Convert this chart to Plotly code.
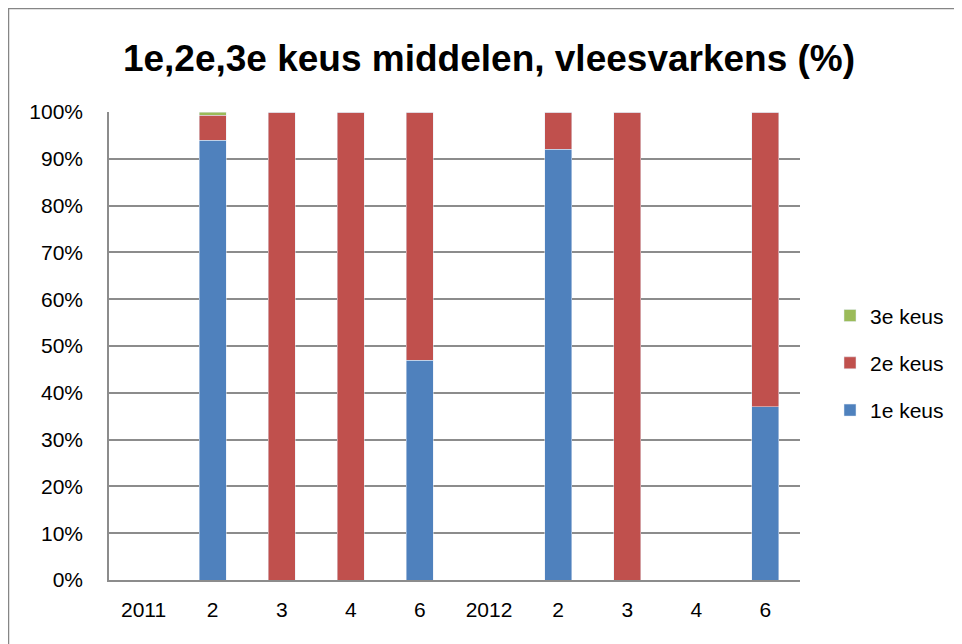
import plotly.graph_objects as go

# categorieen (dubbele labels, dus posities + ticktekst)
labels = ['2011', '2', '3', '4', '6', '2012', '2', '3', '4', '6']
pos = list(range(len(labels)))

keus1 = [0, 94, 0, 0, 47, 0, 92, 0, 0, 37]
keus2 = [0, 5.3, 100, 100, 53, 0, 8, 100, 0, 63]
keus3 = [0, 0.7, 0, 0, 0, 0, 0, 0, 0, 0]

# pagina heeft 8px body-marge, daar corrigeren we voor
W, H = 962, 644
ml, mt = 101, 104
pw, ph = 691, 468
mr, mb = W - ml - pw, H - mt - ph

fig = go.Figure()
fig.add_trace(go.Bar(x=pos, y=keus1, name='1e keus', legendgroup='a', legendrank=3,
                     marker_color='#4f81bd'))
fig.add_trace(go.Bar(x=pos, y=keus2, name='2e keus', legendgroup='b', legendrank=2,
                     marker_color='#c0504d'))
fig.add_trace(go.Bar(x=pos, y=keus3, name='3e keus', legendgroup='c', legendrank=1,
                     marker_color='#9bbb59'))

fig.update_layout(
    width=W, height=H,
    barmode='stack', bargap=0.61,
    margin=dict(l=ml, r=mr, t=mt, b=mb),
    paper_bgcolor='white', plot_bgcolor='white',
    font=dict(family='Liberation Sans, sans-serif', size=21, color='black'),
    title=dict(text='<b>1e,2e,3e keus middelen, vleesvarkens (%)</b>',
               x=0.5, xref='container', xanchor='center',
               y=1 - 50 / H, yanchor='middle', font=dict(size=37)),
    legend=dict(traceorder='grouped', x=(822 - ml) / pw, xanchor='left',
                y=0.464, yanchor='middle', font=dict(size=21),
                itemwidth=30, tracegroupgap=17),
    showlegend=True,
)
fig.update_xaxes(tickmode='array', tickvals=pos, ticktext=labels,
                 range=[-0.5, 9.5], showline=True, linecolor='#8c8c8c', linewidth=1.5,
                 ticks='', showgrid=False, ticklabelstandoff=10)
fig.update_yaxes(range=[0, 100], dtick=10, ticksuffix='%',
                 showgrid=True, gridcolor='#8c8c8c', gridwidth=1.5,
                 showline=True, linecolor='#8c8c8c', linewidth=1.5, zeroline=False,
                 ticks='', ticklabelstandoff=20)

# rand van de grafiek
fig.add_shape(type='rect', xref='paper', yref='paper',
              x0=(0.5 - ml) / pw, x1=(955 - ml) / pw,
              y0=-(660 - (H - mb)) / ph, y1=1 + (mt - 0.5) / ph,
              line=dict(color='#868686', width=1.5))

fig.write_html('out.html')
